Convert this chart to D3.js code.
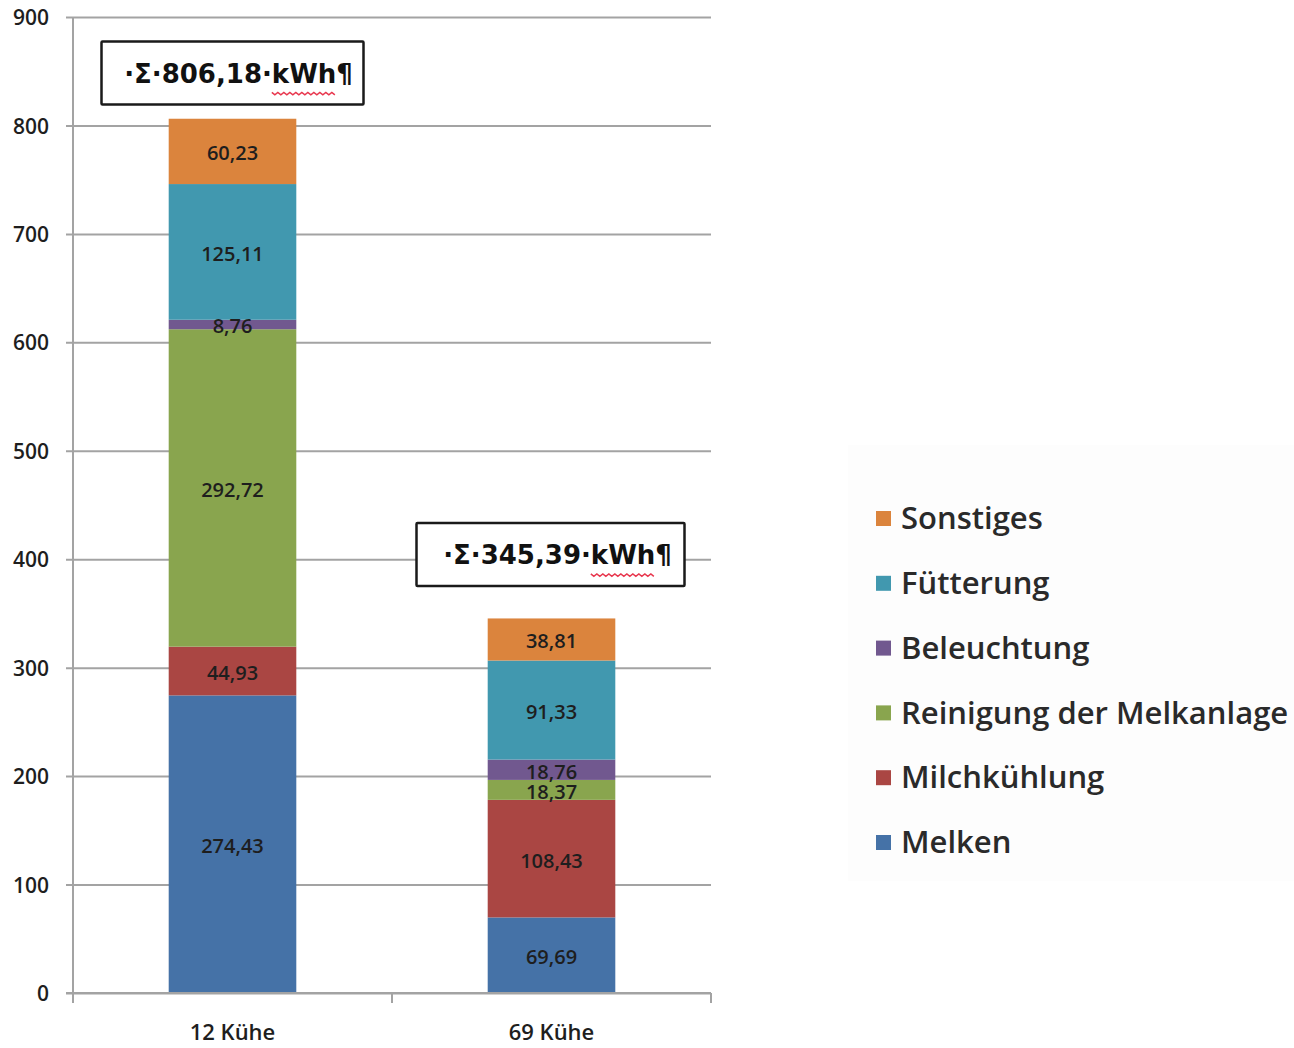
<!DOCTYPE html>
<html>
<head>
<meta charset="utf-8">
<script src="https://cdn.jsdelivr.net/npm/d3@7/dist/d3.min.js"></script>
<style>
  html, body { margin: 0; padding: 0; background: #ffffff; }
  svg { display: block; }
  text { font-family: "Open Sans", sans-serif; font-weight: 600; }
  text.total { font-family: "DejaVu Sans", sans-serif; font-weight: bold; }
</style>
</head>
<body>
<svg id="chart" width="1294" height="1048"></svg>
<script>
// Energy use per farm size, stacked by consumer (kWh)
const categories = ["12 Kühe", "69 Kühe"];
const seriesNames = ["Melken", "Milchkühlung", "Reinigung der Melkanlage", "Beleuchtung", "Fütterung", "Sonstiges"];
const seriesColors = ["#4572a7", "#aa4643", "#89a54e", "#71588f", "#4198af", "#db843d"];
const melken = [274.43, 69.69];
const milchkuehlung = [44.93, 108.43];
const reinigung = [292.72, 18.37];
const beleuchtung = [8.76, 18.76];
const fuetterung = [125.11, 91.33];
const sonstiges = [60.23, 38.81];
const totals = [806.18, 345.39];
const yTicks = [0, 100, 200, 300, 400, 500, 600, 700, 800, 900];

const seriesValues = [melken, milchkuehlung, reinigung, beleuchtung, fuetterung, sonstiges];
const rows = categories.map((c, i) => {
  const r = { category: c };
  seriesNames.forEach((s, k) => { r[s] = seriesValues[k][i]; });
  return r;
});

const fmt = v => v.toFixed(2).replace(".", ",");

const svg = d3.select("#chart");
const plot = { left: 73, right: 711, top: 17, bottom: 993 };

const x = d3.scaleBand().domain(categories).range([plot.left, plot.right])
  .paddingInner(0.6).paddingOuter(0.3);
const y = d3.scaleLinear().domain([0, 900]).range([plot.bottom, plot.top]);
const color = d3.scaleOrdinal().domain(seriesNames).range(seriesColors);

// faint legend panel
svg.append("rect").attr("x", 848).attr("y", 445).attr("width", 446).attr("height", 436)
  .attr("fill", "#fdfdfd");

// horizontal gridlines with small tick stubs on the left
const yAxis = d3.axisLeft(y).tickValues(yTicks).tickSize(-(plot.right - plot.left)).tickPadding(0).tickFormat(d => d);
const gy = svg.append("g").attr("transform", `translate(${plot.left},0)`).call(yAxis);
gy.select(".domain").remove();
gy.selectAll(".tick line").attr("stroke", "#a3a3a3").attr("stroke-width", 2).attr("x1", -7);
gy.selectAll(".tick text")
  .attr("x", -24).attr("dy", "0.36em")
  .attr("fill", "#1e1e1e").attr("font-size", 21)
  .attr("text-anchor", "end")
  .style("font-family", "'Open Sans', sans-serif").style("font-weight", 600);

// stacked bars
const stack = d3.stack().keys(seriesNames)(rows);
const layers = svg.append("g").selectAll("g").data(stack).join("g")
  .attr("fill", d => color(d.key));
layers.selectAll("rect").data(d => d).join("rect")
  .attr("x", d => x(d.data.category))
  .attr("width", x.bandwidth())
  .attr("y", d => y(d[1]))
  .attr("height", d => y(d[0]) - y(d[1]));

// segment value labels
const labels = svg.append("g");
stack.forEach(layer => {
  layer.forEach(d => {
    labels.append("text")
      .attr("x", x(d.data.category) + x.bandwidth() / 2)
      .attr("y", y((d[0] + d[1]) / 2))
      .attr("dy", "0.45em")
      .attr("text-anchor", "middle")
      .attr("font-size", 20)
      .attr("fill", "#1e1e1e")
      .text(fmt(d[1] - d[0]));
  });
});

// y axis line
svg.append("line").attr("x1", plot.left).attr("x2", plot.left)
  .attr("y1", plot.top).attr("y2", plot.bottom)
  .attr("stroke", "#a3a3a3").attr("stroke-width", 2);

// x axis
const xAxis = d3.axisBottom(x).tickSize(0).tickPadding(0);
const gx = svg.append("g").attr("transform", `translate(0,${plot.bottom})`).call(xAxis);
gx.select(".domain").remove();
gx.selectAll(".tick text")
  .attr("y", 47).attr("dy", 0)
  .attr("font-size", 22).attr("fill", "#1e1e1e")
  .style("font-family", "'Open Sans', sans-serif").style("font-weight", 600);
svg.append("line").attr("x1", plot.left - 7).attr("x2", plot.right)
  .attr("y1", plot.bottom).attr("y2", plot.bottom)
  .attr("stroke", "#a3a3a3").attr("stroke-width", 2);
[plot.left, (plot.left + plot.right) / 2, plot.right].forEach(px => {
  svg.append("line").attr("x1", px).attr("x2", px)
    .attr("y1", plot.bottom).attr("y2", plot.bottom + 10)
    .attr("stroke", "#a3a3a3").attr("stroke-width", 2);
});

// total annotations above each bar
const annotY = [848, 404];
categories.forEach((c, i) => {
  const cx = x(c) + x.bandwidth() / 2;
  const cy = y(annotY[i]);
  const g = svg.append("g");
  const box = g.append("rect").attr("fill", "#ffffff").attr("stroke", "#1a1a1a").attr("stroke-width", 2.5)
    .attr("rx", 1);
  const label = "\u00b7\u03a3\u00b7" + fmt(totals[i]) + "\u00b7kWh\u00b6";
  const t = g.append("text").attr("class", "total")
    .attr("x", cx + 6).attr("y", cy).attr("dy", "0.36em")
    .attr("text-anchor", "middle")
    .attr("font-size", 26).attr("fill", "#111")
    .text(label);
  const w = i === 0 ? 262 : 268;
  const bx = i === 0 ? cx - 131 : cx - 135;
  box.attr("x", bx).attr("y", cy - 32).attr("width", w).attr("height", 63);
  // red wavy underline under "kWh"
  const node = t.node();
  const idx = label.indexOf("kWh");
  const start = node.getStartPositionOfChar(idx).x;
  const end = node.getEndPositionOfChar(idx + 2).x;
  const base = cy + 19;
  const pts = [];
  for (let px = start, k = 0; px <= end; px += 3, k++) {
    pts.push([px, base + (k % 2 === 0 ? 0 : 2.5)]);
  }
  g.append("path").attr("d", d3.line()(pts)).attr("fill", "none")
    .attr("stroke", "#e8384f").attr("stroke-width", 1.5);
});

// legend, top series first
const legendItems = seriesNames.slice().reverse();
const lg = svg.append("g").attr("transform", "translate(876,518)");
legendItems.forEach((name, i) => {
  const row = lg.append("g").attr("transform", `translate(0,${i * 64.8})`);
  row.append("rect").attr("x", 0).attr("y", -7).attr("width", 15).attr("height", 15)
    .attr("fill", color(name));
  row.append("text").attr("x", 25).attr("y", 0).attr("dy", "0.36em")
    .attr("font-size", 31).attr("fill", "#2a2a2a")
    .text(name);
});
</script>
</body>
</html>
